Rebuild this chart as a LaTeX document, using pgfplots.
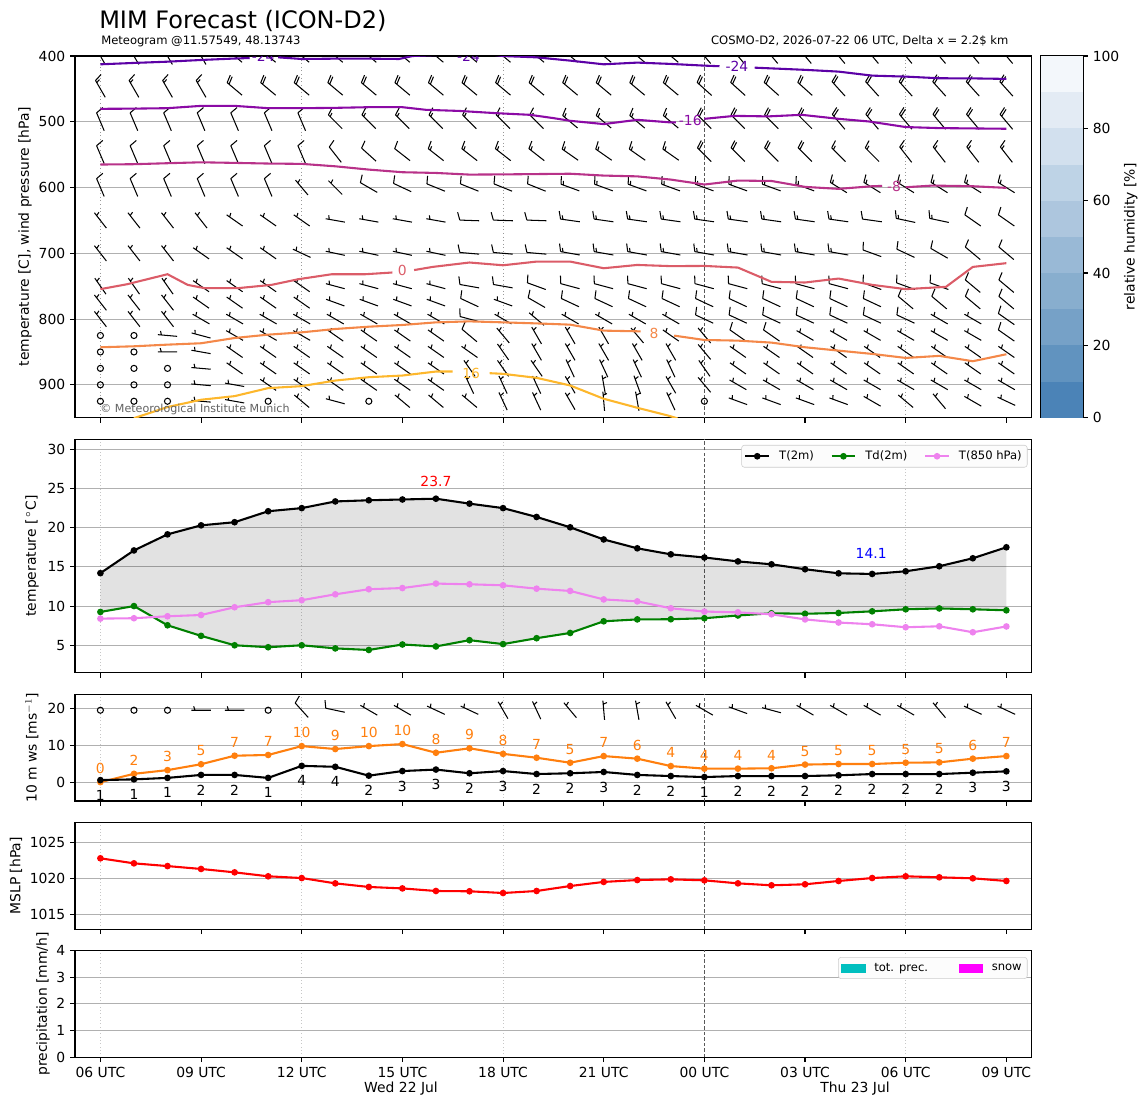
\documentclass[border=0pt]{standalone}
\usepackage{fontspec}
\setmainfont{DejaVu Sans}
\usepackage{pgfplots}
\usepackage{pgfplotstable}
\pgfplotsset{compat=1.18}

\definecolor{cmA}{HTML}{5C01A6}
\definecolor{cmB}{HTML}{8B0AA5}
\definecolor{cmC}{HTML}{B83289}
\definecolor{czero}{HTML}{DB5C68}
\definecolor{cpA}{HTML}{F48849}
\definecolor{cpB}{HTML}{FDB72C}
\definecolor{tdgreen}{HTML}{008000}
\definecolor{tviolet}{HTML}{EE82EE}
\definecolor{gustor}{HTML}{FF7F0E}
\definecolor{precc}{HTML}{00BFBF}
\definecolor{snowc}{HTML}{FF00FF}
\definecolor{gridc}{HTML}{B0B0B0}
\definecolor{legfill}{HTML}{FCFCFC}
\definecolor{cbA}{HTML}{4B83B7}
\definecolor{cbB}{HTML}{6193BF}
\definecolor{cbC}{HTML}{76A1C7}
\definecolor{cbD}{HTML}{88AECE}
\definecolor{cbE}{HTML}{99B9D6}
\definecolor{cbF}{HTML}{ADC6DE}
\definecolor{cbG}{HTML}{BED3E6}
\definecolor{cbH}{HTML}{D2E0EE}
\definecolor{cbI}{HTML}{E3EBF4}
\definecolor{cbJ}{HTML}{F3F7FB}

% wind barb mark: staff of 14pt, pivot in the middle, feathers on the clockwise side
\def\barbfull#1{\pgfpathmoveto{\pgfqpoint{#1}{0pt}}\pgfpathlineto{\pgfpointadd{\pgfqpoint{#1}{0pt}}{\pgfqpoint{1.75pt}{-5.6pt}}}}
\def\barbhalf#1{\pgfpathmoveto{\pgfqpoint{#1}{0pt}}\pgfpathlineto{\pgfpointadd{\pgfqpoint{#1}{0pt}}{\pgfqpoint{0.9pt}{-2.8pt}}}}
\pgfdeclareplotmark{barb}{%
  \ifnum\barbspd=0\relax
    \pgfpathcircle{\pgfpointorigin}{2.2pt}%
    \pgfusepathqstroke
  \else
    \pgfmathsetmacro\barbrot{90-\barbdir}%
    \pgftransformrotate{\barbrot}%
    \pgfpathmoveto{\pgfqpoint{-7pt}{0pt}}%
    \pgfpathlineto{\pgfqpoint{7pt}{0pt}}%
    \pgfmathtruncatemacro\barbF{\barbspd/10}%
    \pgfmathtruncatemacro\barbH{(\barbspd-10*\barbF)/5}%
    \ifnum\barbF>0 \barbfull{7pt}\fi
    \ifnum\barbF>1 \barbfull{5.25pt}\fi
    \ifnum\barbF>2 \barbfull{3.5pt}\fi
    \ifnum\barbH>0
      \ifcase\barbF \barbhalf{4.4pt}\or \barbhalf{5.25pt}\or \barbhalf{3.5pt}\else \barbhalf{1.75pt}\fi
    \fi
    \pgfusepathqstroke
  \fi
}

\pgfplotsset{
  mybase/.style={
    scale only axis, width=688.7pt,
    xmin=-0.757, xmax=27.75,
    axis line style={line width=0.8pt},
    tick align=outside, tick pos=left,
    major tick length=3.5pt,
    every tick/.style={black, line width=0.8pt},
    xtick={0,3,...,27}, xticklabels={},
    minor xtick={0,6,12,24}, xminorgrids=true, minor tick length=0pt,
    minor grid style={black!22, dotted, line width=0.6pt},
    extra x ticks={18}, extra x tick labels={},
    extra x tick style={xmajorgrids=true, major grid style={black!65, dash pattern=on 2.5pt off 1.5pt, line width=0.6pt}},
    ymajorgrids=true,
    major grid style={gridc, line width=0.8pt},
    tick label style={font=\fontsize{10}{12}\selectfont},
    label style={font=\fontsize{10}{12}\selectfont},
    /pgf/number format/assume math mode=true,
    /pgf/number format/1000 sep={},
    clip marker paths=true,
  },
  ylab/.style={every axis y label/.style={at={(axis description cs:#1,0.5)}, rotate=90, anchor=center, font=\fontsize{10}{12}\selectfont}},
  barbplot/.style={only marks, mark=barb, mark options={line width=0.75pt, black, solid},
    visualization depends on={value \thisrow{d}\as\barbdir},
    visualization depends on={value \thisrow{s}\as\barbspd}},
}

\pgfplotstableread{
h T Td T8
0 14.2 9.25 8.4
1 17.1 10.0 8.45
2 19.15 7.55 8.7
3 20.3 6.2 8.86
4 20.7 5.0 9.85
5 22.1 4.75 10.5
6 22.5 5.0 10.75
7 23.35 4.6 11.5
8 23.5 4.4 12.15
9 23.6 5.1 12.3
10 23.7 4.85 12.87
11 23.07 5.65 12.78
12 22.5 5.15 12.65
13 21.37 5.9 12.22
14 20.05 6.57 11.93
15 18.5 8.06 10.85
16 17.37 8.3 10.6
17 16.6 8.32 9.72
18 16.2 8.45 9.3
19 15.7 8.8 9.2
20 15.33 9.08 8.95
21 14.7 9.02 8.3
22 14.18 9.12 7.9
23 14.1 9.33 7.68
24 14.44 9.59 7.3
25 15.08 9.7 7.42
26 16.1 9.59 6.66
27 17.5 9.46 7.4
}\tempdata

\pgfplotstableread{
h v lab
0 0.6 1
1 0.8 1
2 1.2 1
3 2.0 2
4 2.0 2
5 1.2 1
6 4.45 4
7 4.2 4
8 1.8 2
9 3.05 3
10 3.45 3
11 2.45 2
12 3.05 3
13 2.24 2
14 2.45 2
15 2.8 3
16 2.0 2
17 1.7 2
18 1.43 1
19 1.7 2
20 1.7 2
21 1.7 2
22 1.9 2
23 2.24 2
24 2.24 2
25 2.24 2
26 2.6 3
27 2.97 3
}\wsdata

\pgfplotstableread{
h v lab
0 0.05 0
1 2.3 2
2 3.3 3
3 4.9 5
4 7.2 7
5 7.4 7
6 9.8 10
7 9.0 9
8 9.8 10
9 10.35 10
10 8.0 8
11 9.2 9
12 7.7 8
13 6.65 7
14 5.3 5
15 7.1 7
16 6.4 6
17 4.4 4
18 3.7 4
19 3.7 4
20 3.8 4
21 4.8 5
22 4.95 5
23 4.95 5
24 5.3 5
25 5.4 5
26 6.4 6
27 7.1 7
}\gustdata

\pgfplotstableread{
h p
0 1022.78
1 1022.08
2 1021.7
3 1021.3
4 1020.83
5 1020.28
6 1020.04
7 1019.3
8 1018.8
9 1018.6
10 1018.24
11 1018.2
12 1017.96
13 1018.24
14 1018.93
15 1019.5
16 1019.76
17 1019.86
18 1019.72
19 1019.3
20 1019.03
21 1019.17
22 1019.63
23 1020.04
24 1020.28
25 1020.14
26 1020.0
27 1019.63
}\mslpdata

\begin{document}
\begin{tikzpicture}[x=0.72pt,y=0.72pt]
\path[use as bounding box] (0,0) rectangle (1148,1105);
\coordinate (PA) at (75,687.3);
\coordinate (PC) at (1041,687.3);
\coordinate (PB) at (75,432.3);
\coordinate (PD) at (75,304);
\coordinate (PE) at (75,175.7);
\coordinate (PF) at (75,47.7);

% ---------------- Panel 1 : upper air ----------------
\begin{axis}[mybase, at={(PA)}, anchor=south west, height=260.4pt,
  minor grid style={black!40, dotted, line width=0.6pt},
  ymin=400, ymax=950, y dir=reverse, ytick={400,500,...,900},
  ylab=-0.0523, ylabel={temperature [C], wind pressure [hPa]}]
\addplot[barbplot] table[x=x, y=p, row sep=\\]{
x p d s\\
0 400 330 15\\1 400 330 15\\2 400 330 15\\3 400 330 15\\4 400 310 20\\5 400 310 20\\6 400 310 20\\7 400 310 20\\8 400 310 20\\9 400 310 20\\10 400 310 20\\11 400 310 20\\12 400 310 20\\13 400 310 20\\14 400 310 20\\15 400 310 20\\16 400 310 20\\17 400 310 20\\18 400 320 20\\19 400 320 20\\20 400 320 20\\21 400 320 20\\22 400 320 20\\23 400 320 20\\24 400 320 20\\25 400 320 20\\26 400 320 20\\27 400 320 20\\
0 450 330 15\\1 450 330 15\\2 450 330 15\\3 450 330 15\\4 450 310 20\\5 450 310 20\\6 450 310 20\\7 450 310 20\\8 450 310 20\\9 450 310 20\\10 450 310 20\\11 450 310 20\\12 450 310 20\\13 450 310 20\\14 450 310 20\\15 450 310 20\\16 450 310 20\\17 450 310 20\\18 450 312 20\\19 450 312 20\\20 450 312 20\\21 450 312 20\\22 450 318 20\\23 450 318 20\\24 450 318 20\\25 450 318 20\\26 450 318 20\\27 450 318 20\\
0 500 337 10\\1 500 337 10\\2 500 337 10\\3 500 337 10\\4 500 337 10\\5 500 337 10\\6 500 337 10\\7 500 315 15\\8 500 315 15\\9 500 315 15\\10 500 315 15\\11 500 315 15\\12 500 315 15\\13 500 315 15\\14 500 310 15\\15 500 310 15\\16 500 310 15\\17 500 310 15\\18 500 315 20\\19 500 315 20\\20 500 315 20\\21 500 315 20\\22 500 320 20\\23 500 320 20\\24 500 320 20\\25 500 320 20\\26 500 320 20\\27 500 320 20\\
0 550 337 10\\1 550 337 10\\2 550 337 10\\3 550 337 10\\4 550 337 10\\5 550 337 10\\6 550 337 10\\7 550 322 10\\8 550 312 10\\9 550 308 10\\10 550 308 15\\11 550 308 15\\12 550 308 15\\13 550 308 15\\14 550 305 15\\15 550 305 15\\16 550 305 15\\17 550 305 15\\18 550 315 20\\19 550 315 20\\20 550 315 20\\21 550 315 20\\22 550 315 15\\23 550 315 15\\24 550 322 15\\25 550 322 15\\26 550 322 15\\27 550 322 15\\
0 600 337 10\\1 600 337 10\\2 600 337 10\\3 600 337 10\\4 600 337 10\\5 600 337 10\\6 600 320 5\\7 600 315 5\\8 600 300 10\\9 600 295 10\\10 600 292 10\\11 600 292 10\\12 600 292 10\\13 600 292 10\\14 600 290 15\\15 600 290 15\\16 600 290 15\\17 600 290 15\\18 600 290 15\\19 600 290 15\\20 600 290 15\\21 600 290 15\\22 600 302 15\\23 600 302 15\\24 600 302 15\\25 600 302 15\\26 600 302 15\\27 600 302 15\\
0 650 322 5\\1 650 322 5\\2 650 322 5\\3 650 322 5\\4 650 305 5\\5 650 305 5\\6 650 305 5\\7 650 280 5\\8 650 280 5\\9 650 280 5\\10 650 280 5\\11 650 272 10\\12 650 272 10\\13 650 272 10\\14 650 278 15\\15 650 278 15\\16 650 278 15\\17 650 278 15\\18 650 278 15\\19 650 278 15\\20 650 278 15\\21 650 278 15\\22 650 278 15\\23 650 278 10\\24 650 282 15\\25 650 282 15\\26 650 305 10\\27 650 305 10\\
0 700 322 5\\1 700 322 5\\2 700 322 5\\3 700 305 5\\4 700 305 5\\5 700 305 5\\6 700 295 5\\7 700 282 5\\8 700 282 5\\9 700 282 5\\10 700 282 5\\11 700 275 10\\12 700 275 10\\13 700 275 10\\14 700 280 15\\15 700 280 15\\16 700 280 15\\17 700 280 15\\18 700 280 15\\19 700 280 15\\20 700 280 15\\21 700 280 15\\22 700 280 15\\23 700 290 10\\24 700 295 10\\25 700 300 10\\26 700 310 10\\27 700 310 10\\
0 750 325 5\\1 750 325 5\\2 750 325 5\\3 750 305 5\\4 750 305 5\\5 750 305 5\\6 750 305 5\\7 750 285 5\\8 750 285 5\\9 750 285 5\\10 750 285 5\\11 750 280 10\\12 750 280 10\\13 750 290 10\\14 750 285 10\\15 750 285 10\\16 750 285 10\\17 750 285 10\\18 750 285 10\\19 750 285 10\\20 750 285 10\\21 750 285 10\\22 750 285 10\\23 750 290 10\\24 750 290 10\\25 750 290 10\\26 750 310 10\\27 750 310 10\\
0 775 322 5\\1 775 322 5\\2 775 322 5\\3 775 305 5\\4 775 305 5\\5 775 305 5\\6 775 305 5\\7 775 290 5\\8 775 290 5\\9 775 290 5\\10 775 290 5\\11 775 295 10\\12 775 290 5\\13 775 300 10\\14 775 295 10\\15 775 295 10\\16 775 295 10\\17 775 295 10\\18 775 295 10\\19 775 295 10\\20 775 295 10\\21 775 295 10\\22 775 295 10\\23 775 295 10\\24 775 310 10\\25 775 310 10\\26 775 310 10\\27 775 310 10\\
0 800 322 5\\1 800 322 5\\2 800 322 5\\3 800 300 5\\4 800 300 5\\5 800 300 5\\6 800 300 5\\7 800 300 5\\8 800 300 5\\9 800 300 5\\10 800 300 5\\11 800 285 10\\12 800 300 5\\13 800 310 5\\14 800 300 5\\15 800 300 5\\16 800 300 5\\17 800 300 5\\18 800 295 10\\19 800 295 10\\20 800 295 10\\21 800 295 10\\22 800 295 10\\23 800 295 10\\24 800 295 10\\25 800 300 5\\26 800 300 5\\27 800 305 10\\
0 825 0 0\\1 825 0 0\\2 825 275 5\\3 825 285 5\\4 825 300 5\\5 825 300 5\\6 825 300 5\\7 825 305 5\\8 825 305 5\\9 825 305 5\\10 825 305 5\\11 825 310 10\\12 825 320 5\\13 825 330 5\\14 825 330 5\\15 825 330 5\\16 825 320 5\\17 825 305 5\\18 825 320 5\\19 825 305 10\\20 825 305 10\\21 825 300 5\\22 825 300 5\\23 825 300 5\\24 825 300 5\\25 825 300 5\\26 825 300 5\\27 825 305 10\\
0 850 0 0\\1 850 0 0\\2 850 270 5\\3 850 280 5\\4 850 305 5\\5 850 305 5\\6 850 305 5\\7 850 305 5\\8 850 305 5\\9 850 305 5\\10 850 305 5\\11 850 305 5\\12 850 325 5\\13 850 330 5\\14 850 330 5\\15 850 330 5\\16 850 330 5\\17 850 330 5\\18 850 320 5\\19 850 305 5\\20 850 305 5\\21 850 305 5\\22 850 305 5\\23 850 305 5\\24 850 305 5\\25 850 305 5\\26 850 305 5\\27 850 305 5\\
0 875 0 0\\1 875 0 0\\2 875 0 0\\3 875 275 5\\4 875 305 5\\5 875 305 5\\6 875 305 5\\7 875 305 5\\8 875 305 5\\9 875 305 5\\10 875 305 5\\11 875 325 5\\12 875 325 5\\13 875 325 5\\14 875 335 5\\15 875 335 5\\16 875 335 5\\17 875 335 5\\18 875 325 5\\19 875 305 5\\20 875 305 5\\21 875 305 5\\22 875 305 5\\23 875 305 5\\24 875 305 5\\25 875 305 5\\26 875 305 5\\27 875 305 5\\
0 900 0 0\\1 900 0 0\\2 900 0 0\\3 900 275 5\\4 900 280 5\\5 900 305 5\\6 900 305 5\\7 900 305 5\\8 900 305 5\\9 900 305 5\\10 900 305 5\\11 900 335 5\\12 900 335 5\\13 900 335 5\\14 900 330 5\\15 900 350 5\\16 900 340 5\\17 900 330 5\\18 900 320 5\\19 900 300 5\\20 900 300 5\\21 900 300 5\\22 900 300 5\\23 900 300 5\\24 900 300 5\\25 900 300 5\\26 900 300 5\\27 900 300 5\\
0 925 0 0\\1 925 0 0\\2 925 0 0\\3 925 275 5\\4 925 280 5\\5 925 0 0\\6 925 310 5\\7 925 285 5\\8 925 0 0\\9 925 310 5\\10 925 310 5\\11 925 310 5\\12 925 335 5\\13 925 335 5\\14 925 330 5\\15 925 355 5\\16 925 350 5\\17 925 335 5\\18 925 0 0\\19 925 290 5\\20 925 290 5\\21 925 290 5\\22 925 290 5\\23 925 300 5\\24 925 310 5\\25 925 320 5\\26 925 300 5\\27 925 295 5\\
};
% isotherms
\addplot[cmA, line width=1.5pt, no marks] coordinates {(0,412.6) (1,410.5) (2,408.6) (3,406) (4,403.8) (4.45,403)};
\addplot[cmA, line width=1.5pt, no marks] coordinates {(5.3,402) (6,404.5) (7,404) (8,404) (8.9,404.5) (9.3,400) (10.2,398)};
\addplot[cmA, line width=1.5pt, no marks] coordinates {(11.7,398) (12,400) (13,402) (14,407) (15,412.6) (16,410) (17,412) (18,414.6) (18.45,415.5)};
\addplot[cmA, line width=1.5pt, no marks] coordinates {(19.5,417.7) (21,421) (22,423.7) (23,429.8) (24,431.3) (25,433.8) (26,434) (27,434.8)};
\addplot[cmB, line width=1.5pt, no marks] coordinates {(0,480.3) (1,480) (2,479.3) (3,475.8) (4,475.8) (5,479.3) (6,479.3) (7,478.8) (8,477.8) (9,477.8) (9.7,481.8) (10.7,483.5) (11.8,486.9) (12.8,489.4) (13.5,494.4) (14,498.5) (15,503.5) (16,497) (17,501) (17.15,501)};
\addplot[cmB, line width=1.5pt, no marks] coordinates {(18,495.5) (18.9,491) (19.9,491.8) (20.9,489.4) (22,495.5) (22.9,499.5) (24,508) (25,509.6) (27,510.6)};
\addplot[cmC, line width=1.5pt, no marks] coordinates {(0,565) (1,564.5) (2,563) (3,561.6) (4,562.5) (5,563.5) (6,564) (7,567.7) (8,572.7) (9,576.7) (10,577.8) (11,580.3) (12,580) (13,579.5) (14,579) (15,581.8) (16,583) (17,587.9) (18,595.4) (19,589.4) (20,590) (21,599) (22,602) (23,598) (23.3,597.5)};
\addplot[cmC, line width=1.5pt, no marks] coordinates {(24,599.5) (24.8,597) (26,598) (27,600.5)};
\addplot[czero, line width=1.5pt, no marks] coordinates {(0,754.5) (0.8,747) (2,731.8) (2.6,748) (3.1,753) (4.1,753) (5.1,748) (5.9,739.4) (6.9,731.8) (7.9,731.8) (8.7,729.2)};
\addplot[czero, line width=1.5pt, no marks] coordinates {(9.35,725.5) (9.9,720.7) (11,714) (12,718.2) (13,712.6) (14,712.6) (15,722.7) (16,717.7) (17,719.5) (18,719.2) (19,721.7) (20,743.4) (21,744.4) (22,738.4) (23,748) (24,754.5) (25.2,751) (26,720.7) (27,715)};
\addplot[cpA, line width=1.5pt, no marks] coordinates {(0,842.9) (1,841.4) (2,838.9) (3,836.8) (4,828.8) (5,823.7) (6,820.2) (7,815.1) (8,811.6) (9,809) (10,805) (11,803.5) (12,805) (13,806.6) (14,808.5) (15,817.6) (16,818.6) (16.1,818.6)};
\addplot[cpA, line width=1.5pt, no marks] coordinates {(17.1,825.2) (18,831.8) (19,832.8) (20,835.8) (21,842.9) (22,848) (23,853) (24,859.1) (25,856) (26,864.1) (27,853.5)};
\addplot[cpB, line width=1.5pt, no marks] coordinates {(1.0,950.7) (1.25,946.5) (2,933.8) (3,922.7) (4,917.2) (5,905) (6,902) (7,893.5) (8,888.4) (9,885.9) (10,879.8) (10.5,879.8)};
\addplot[cpB, line width=1.5pt, no marks] coordinates {(11.6,882.3) (12,883.3) (13,889.4) (14,901) (15,921.2) (16,934.9) (16.9,946.5) (17.2,951)};
\begin{scope}[font=\fontsize{10}{12}\selectfont]
\node[cmA] at (axis cs:4.85,401) {-24};
\node[cmA] at (axis cs:10.97,400) {-24};
\node[cmA] at (axis cs:18.97,416.3) {-24};
\node[cmB] at (axis cs:17.58,498.5) {-16};
\node[cmC] at (axis cs:23.65,598.3) {-8};
\node[czero] at (axis cs:9.0,726.5) {0};
\node[cpA] at (axis cs:16.5,821.5) {8};
\node[cpB] at (axis cs:11.05,882) {16};
\end{scope}
\end{axis}

% colorbar
\begin{axis}[at={(PC)}, anchor=south west, scale only axis, width=30.24pt, height=260.4pt,
  xmin=0, xmax=1, ymin=0, ymax=100, xtick=\empty, ytick={0,20,...,100}, ytick pos=right,
  tick align=outside, major tick length=3.5pt, every tick/.style={black, line width=0.8pt},
  axis line style={line width=0.8pt},
  tick label style={font=\fontsize{10}{12}\selectfont},
  /pgf/number format/assume math mode=true,
  every axis y label/.style={at={(axis description cs:2.14,0.5)}, rotate=90, anchor=center, font=\fontsize{10}{12}\selectfont},
  ylabel={relative humidity [\%]}]
\addplot[draw=none, fill=cbA] coordinates {(0,0) (1,0) (1,10) (0,10)} -- cycle;
\addplot[draw=none, fill=cbB] coordinates {(0,10) (1,10) (1,20) (0,20)} -- cycle;
\addplot[draw=none, fill=cbC] coordinates {(0,20) (1,20) (1,30) (0,30)} -- cycle;
\addplot[draw=none, fill=cbD] coordinates {(0,30) (1,30) (1,40) (0,40)} -- cycle;
\addplot[draw=none, fill=cbE] coordinates {(0,40) (1,40) (1,50) (0,50)} -- cycle;
\addplot[draw=none, fill=cbF] coordinates {(0,50) (1,50) (1,60) (0,60)} -- cycle;
\addplot[draw=none, fill=cbG] coordinates {(0,60) (1,60) (1,70) (0,70)} -- cycle;
\addplot[draw=none, fill=cbH] coordinates {(0,70) (1,70) (1,80) (0,80)} -- cycle;
\addplot[draw=none, fill=cbI] coordinates {(0,80) (1,80) (1,90) (0,90)} -- cycle;
\addplot[draw=none, fill=cbJ] coordinates {(0,90) (1,90) (1,100) (0,100)} -- cycle;
\end{axis}

% ---------------- Panel 2 : temperatures ----------------
\begin{axis}[mybase, at={(PB)}, anchor=south west, height=168.05pt,
  ymin=1.5, ymax=31.28, ytick={5,10,...,30},
  ylab=-0.045, ylabel={temperature [\,$^\circ$C]},
  legend style={at={(axis description cs:0.9958,0.9756)}, anchor=north east,
    font=\fontsize{8.33}{10}\selectfont, draw=black!20, rounded corners=2pt,
    fill=legfill, inner sep=2pt,
    legend columns=3,
    /tikz/every odd column/.append style={column sep=4.5pt},
    /tikz/every even column/.append style={column sep=10pt}},
  legend cell align=left]
% shaded band between T(2m) and Td(2m)
\addplot[draw=none, fill=black, fill opacity=0.115, forget plot] coordinates {
(0,14.2) (1,17.1) (2,19.15) (3,20.3) (4,20.7) (5,22.1) (6,22.5) (7,23.35) (8,23.5) (9,23.6) (10,23.7) (11,23.07) (12,22.5) (13,21.37) (14,20.05) (15,18.5) (16,17.37) (17,16.6) (18,16.2) (19,15.7) (20,15.33) (21,14.7) (22,14.18) (23,14.1) (24,14.44) (25,15.08) (26,16.1) (27,17.5)
(27,9.46) (26,9.59) (25,9.7) (24,9.59) (23,9.33) (22,9.12) (21,9.02) (20,9.08) (19,8.8) (18,8.45) (17,8.32) (16,8.3) (15,8.06) (14,6.57) (13,5.9) (12,5.15) (11,5.65) (10,4.85) (9,5.1) (8,4.4) (7,4.6) (6,5.0) (5,4.75) (4,5.0) (3,6.2) (2,7.55) (1,10.0) (0,9.25)} -- cycle;
\addplot[black, line width=1.5pt, mark=*, mark size=1.6pt] table[x=h, y=T]{\tempdata};
\addlegendentry{T(2m)}
\addplot[tdgreen, line width=1.5pt, mark=*, mark size=1.6pt] table[x=h, y=Td]{\tempdata};
\addlegendentry{Td(2m)}
\addplot[tviolet, line width=1.5pt, mark=*, mark size=1.6pt] table[x=h, y=T8]{\tempdata};
\addlegendentry{T(850 hPa)}
\node[red, font=\fontsize{10}{12}\selectfont] at (axis cs:10,25.96) {23.7};
\node[blue, font=\fontsize{10}{12}\selectfont] at (axis cs:22.97,16.7) {14.1};
\end{axis}

% ---------------- Panel 3 : 10 m wind ----------------
\begin{axis}[mybase, at={(PD)}, anchor=south west, height=76.8pt,
  ymin=-5.05, ymax=23.8, ytick={0,10,20},
  ylab=-0.045, ylabel={10 m ws [ms$^{-1}$]}]
\addplot[barbplot] table[x=x, y=y, row sep=\\]{
x y d s\\
0 19.5 0 0\\1 19.5 0 0\\2 19.5 0 0\\3 19.5 270 5\\4 19.5 270 5\\5 19.5 0 0\\6 19.5 318 10\\7 19.5 282 10\\8 19.5 300 5\\9 19.5 300 5\\10 19.5 295 5\\11 19.5 295 5\\12 19.5 330 5\\13 19.5 335 5\\14 19.5 320 5\\15 19.5 355 5\\16 19.5 350 5\\17 19.5 330 5\\18 19.5 300 5\\19 19.5 290 5\\20 19.5 285 5\\21 19.5 300 5\\22 19.5 300 5\\23 19.5 300 5\\24 19.5 300 5\\25 19.5 320 5\\26 19.5 295 5\\27 19.5 295 5\\
};
\addplot[gustor, line width=1.5pt, mark=*, mark size=1.6pt,
  point meta=explicit symbolic, nodes near coords,
  every node near coord/.style={anchor=south, inner sep=0pt, yshift=5.2pt, gustor, font=\fontsize{10}{12}\selectfont}]
  table[x=h, y=v, meta=lab]{\gustdata};
\addplot[black, line width=1.5pt, mark=*, mark size=1.6pt,
  point meta=explicit symbolic, nodes near coords,
  every node near coord/.style={anchor=north, inner sep=0pt, yshift=-6.4pt, black, font=\fontsize{10}{12}\selectfont}]
  table[x=h, y=v, meta=lab]{\wsdata};
\end{axis}

% ---------------- Panel 4 : MSLP ----------------
\begin{axis}[mybase, at={(PE)}, anchor=south west, height=77.04pt,
  ymin=1012.92, ymax=1027.78, ytick={1015,1020,1025},
  ylab=-0.0617, ylabel={MSLP [hPa]}]
\addplot[red, line width=1.5pt, mark=*, mark size=1.6pt] table[x=h, y=p]{\mslpdata};
\end{axis}

% ---------------- Panel 5 : precipitation ----------------
\begin{axis}[mybase, at={(PF)}, anchor=south west, height=77.04pt,
  ymin=0, ymax=4, ytick={0,1,2,3,4},
  xticklabels={06 UTC,09 UTC,12 UTC,15 UTC,18 UTC,21 UTC,00 UTC,03 UTC,06 UTC,09 UTC},
  ylab=-0.0335, ylabel={precipitation [mm/h]},
  legend style={at={(axis description cs:0.9958,0.937)}, anchor=north east,
    font=\fontsize{8.33}{10}\selectfont, draw=black!20, rounded corners=2pt,
    fill=legfill, inner sep=2pt,
    legend columns=2,
    /tikz/every odd column/.append style={column sep=4.5pt},
    /tikz/every even column/.append style={column sep=20pt}},
  legend cell align=left]
\addlegendimage{legend image code/.code={\fill[precc, sharp corners] (0pt,-2.75pt) rectangle (17pt,2.75pt);}}
\addlegendentry{tot. prec.}
\addlegendimage{legend image code/.code={\fill[snowc, sharp corners] (0pt,-2.75pt) rectangle (17pt,2.75pt);}}
\addlegendentry{snow}
\end{axis}

% ---------------- texts ----------------
\node[anchor=base west, font=\fontsize{17.28}{20}\selectfont, inner sep=0pt] at (99,1076.7) {MIM Forecast (ICON-D2)};
\node[anchor=base west, font=\fontsize{8.33}{10}\selectfont, inner sep=0pt] at (101,1060) {Meteogram @11.57549, 48.13743};
\node[anchor=base east, font=\fontsize{8.33}{10}\selectfont, inner sep=0pt] at (1008.6,1060) {COSMO-D2, 2026-07-22 06 UTC, Delta x = 2.2\$ km};
\node[anchor=base west, font=\fontsize{8}{10}\selectfont, text=black!62, inner sep=0pt] at (100,692) {© Meteorological Institute Munich};
\node[anchor=base, font=\fontsize{10}{12}\selectfont, inner sep=0pt] at (401,12.7) {Wed 22 Jul};
\node[anchor=base, font=\fontsize{10}{12}\selectfont, inner sep=0pt] at (855,12.7) {Thu 23 Jul};
\end{tikzpicture}
\end{document}
